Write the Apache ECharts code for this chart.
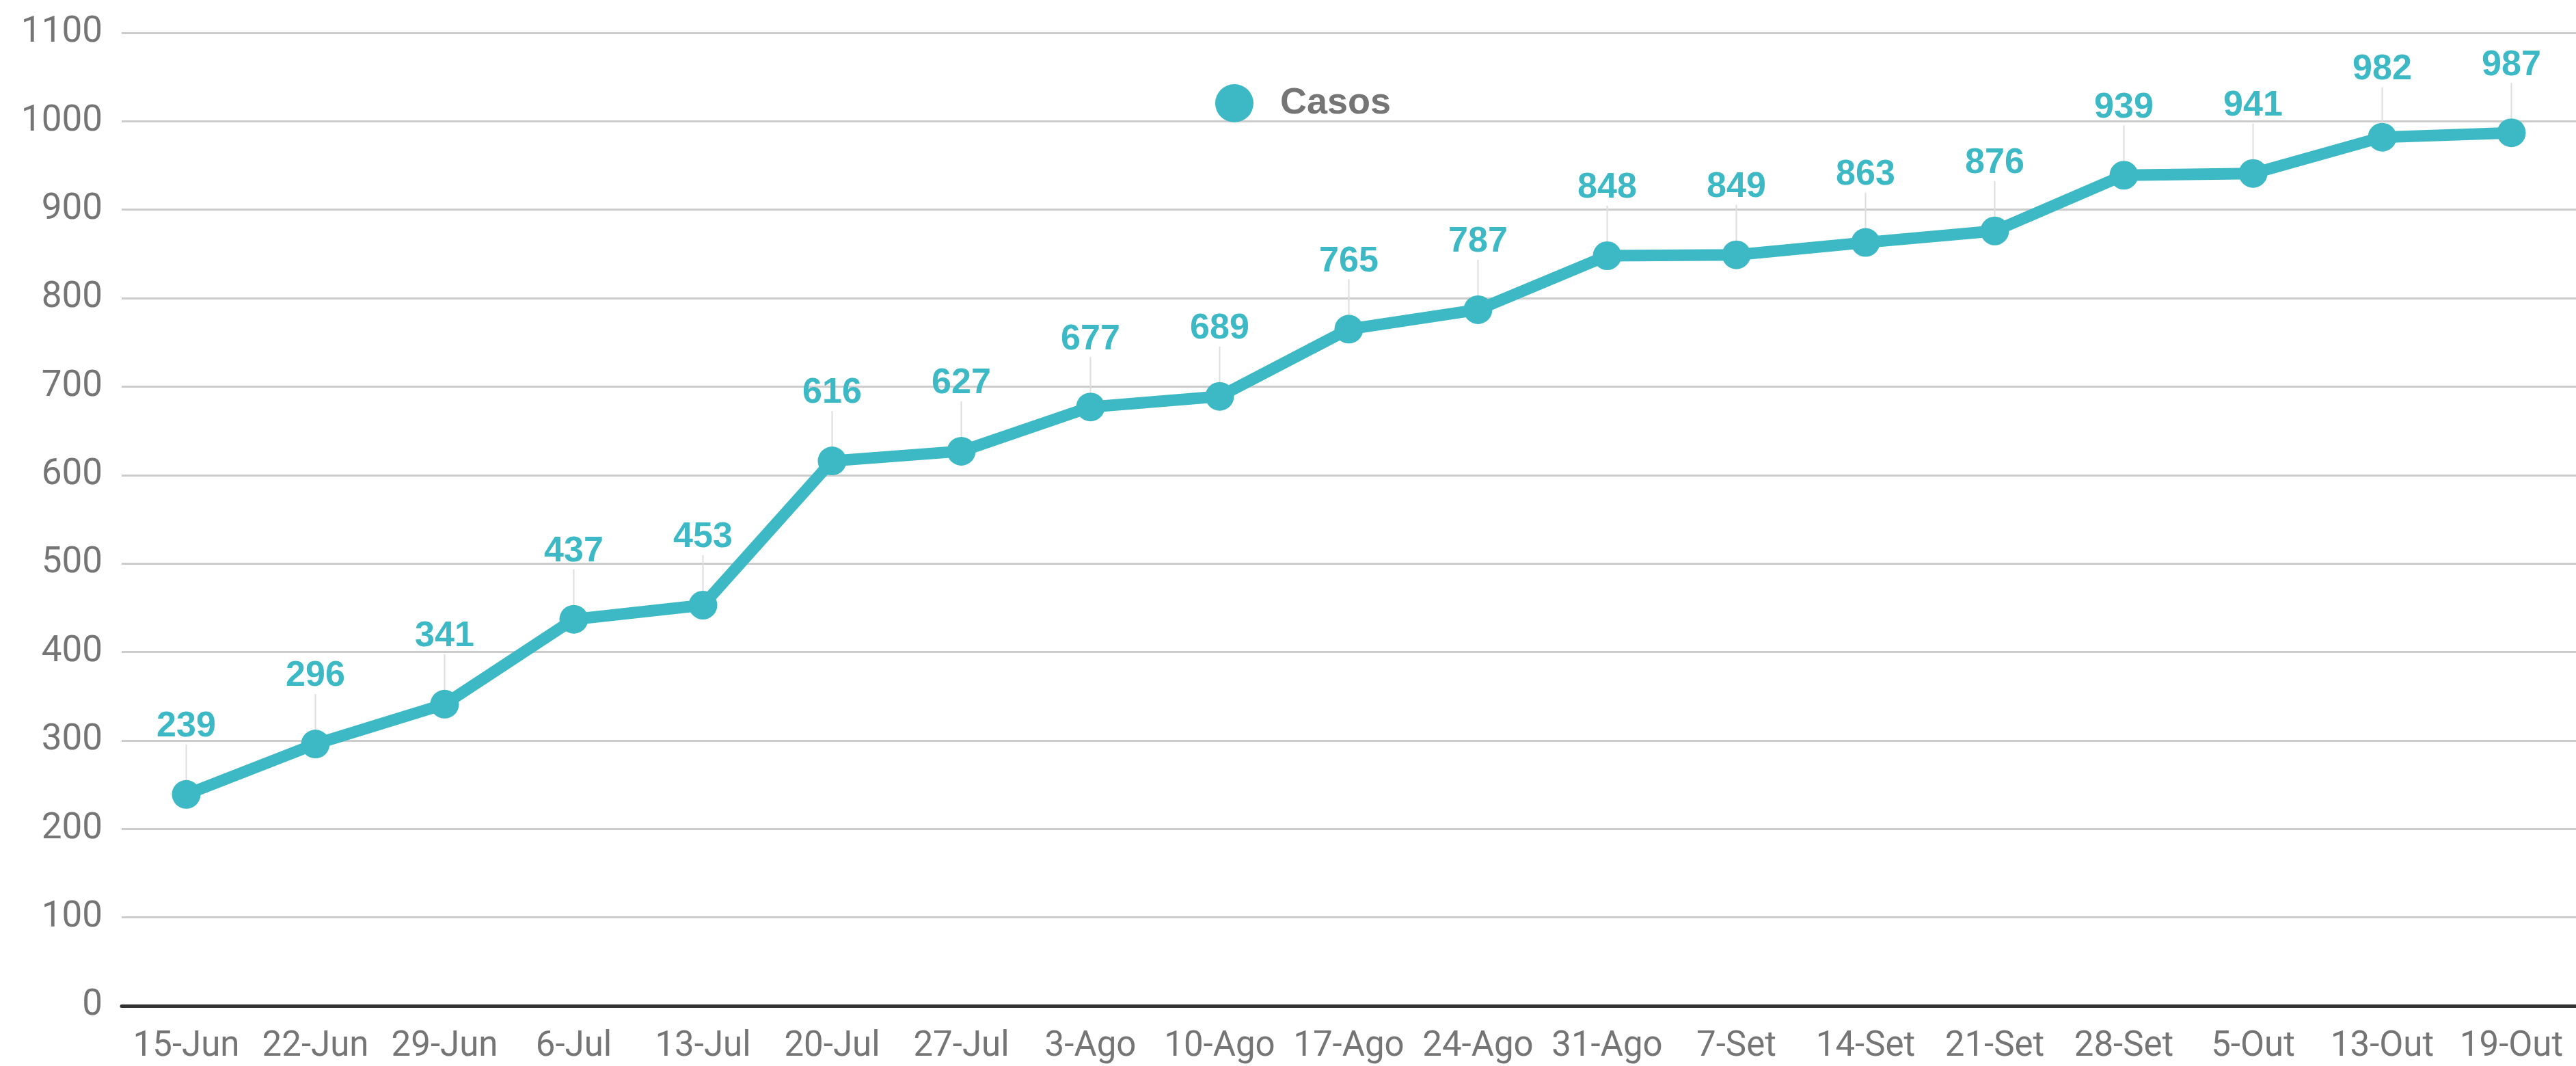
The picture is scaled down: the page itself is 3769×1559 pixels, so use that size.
<!DOCTYPE html>
<html>
<head>
<meta charset="utf-8">
<script src="https://cdn.jsdelivr.net/npm/echarts@6/dist/echarts.min.js"></script>
<style>
html,body{margin:0;padding:0;background:#fff;}
#chart{width:3769px;height:1559px;}
</style>
</head>
<body>
<div id="chart"></div>
<script>
const categories = ['15-Jun','22-Jun','29-Jun','6-Jul','13-Jul','20-Jul','27-Jul','3-Ago','10-Ago','17-Ago','24-Ago','31-Ago','7-Set','14-Set','21-Set','28-Set','5-Out','13-Out','19-Out'];
const casos = [239,296,341,437,453,616,627,677,689,765,787,848,849,863,876,939,941,982,987];
const seriesName = 'Casos';

const teal = '#3db9c5';
const chart = echarts.init(document.getElementById('chart'));
chart.setOption({
  animation: false,
  backgroundColor: '#ffffff',
  grid: {left: 178, right: 0, top: 48, bottom: 88, containLabel: false},
  legend: {
    data: [seriesName],
    left: 1773, top: 118,
    icon: 'circle', itemWidth: 56, itemHeight: 56,
    textStyle: {fontFamily: 'Liberation Sans', fontWeight: 'bold', fontSize: 54, color: '#757575', padding: [0,0,0,34]}
  },
  xAxis: {
    type: 'category',
    data: categories,
    boundaryGap: true,
    axisLine: {lineStyle: {color: '#333333', width: 5}},
    axisTick: {show: false},
    axisLabel: {fontFamily: 'Roboto', fontSize: 51, color: '#757575', margin: 35, interval: 0}
  },
  yAxis: {
    type: 'value',
    min: 0, max: 1100, interval: 100,
    axisLine: {show: false},
    axisTick: {show: false},
    splitLine: {lineStyle: {color: '#cccccc', width: 3}},
    axisLabel: {fontFamily: 'Roboto', fontSize: 53, color: '#757575', margin: 28, formatter: function (v) { return String(v); }}
  },
  series: [{
    name: seriesName,
    type: 'line',
    data: casos,
    symbol: 'circle',
    symbolSize: 42,
    itemStyle: {color: teal},
    lineStyle: {color: teal, width: 17},
    label: {
      show: true, position: 'top', distance: 12,
      fontFamily: 'Liberation Sans', fontWeight: 'bold', fontSize: 52, color: teal
    },
    labelLayout: {dy: -40},
    labelLine: {show: true, lineStyle: {color: '#dddddd', width: 2}}
  }]
});
</script>
</body>
</html>
